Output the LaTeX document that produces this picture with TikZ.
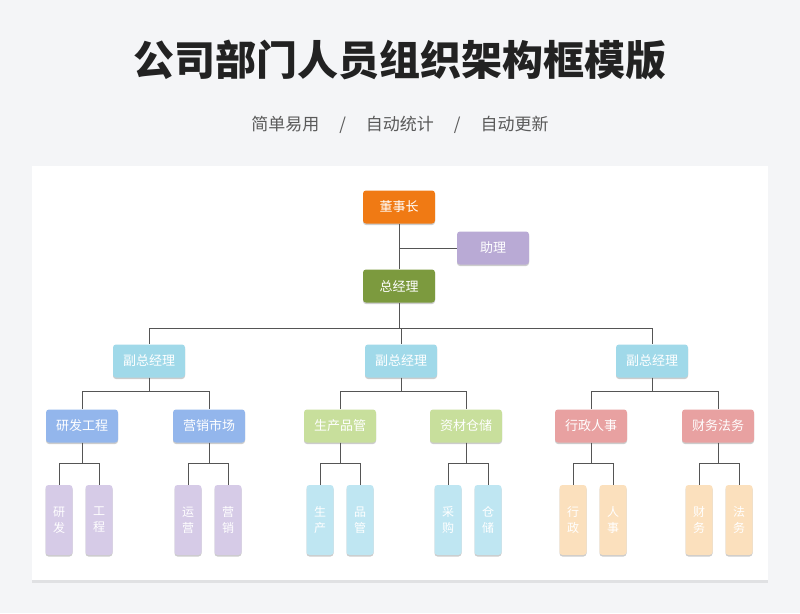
\documentclass[tikz,border=0pt]{standalone}
\usepackage{fontspec}
\setmainfont{Noto Sans CJK SC}
\usepackage{tikz}
\usetikzlibrary{shadows}
\definecolor{pagegray}{HTML}{F4F5F7}
\definecolor{titleink}{HTML}{222222}
\definecolor{subink}{HTML}{5A5A5A}
\definecolor{linegray}{HTML}{555555}
\definecolor{chairorange}{HTML}{F07A14}
\definecolor{assistpurple}{HTML}{B9AAD5}
\definecolor{gmgreen}{HTML}{7C9A3E}
\definecolor{vpcyan}{HTML}{A0D9E9}
\definecolor{deptblue}{HTML}{93B6EC}
\definecolor{deptlime}{HTML}{C8DF9C}
\definecolor{deptpink}{HTML}{E8A1A1}
\definecolor{leaflav}{HTML}{D6CBE7}
\definecolor{leafice}{HTML}{BFE6F2}
\definecolor{leafpeach}{HTML}{FBE0BD}

\begin{document}
\begin{tikzpicture}[x=1pt, y=-1pt,
    orgbox/.style={rounded corners=3pt, minimum width=72, minimum height=33, inner sep=0,
      text=white, font=\fontsize{13}{13}\selectfont,
      drop shadow={shadow xshift=0pt, shadow yshift=-1.5pt, opacity=0.2, fill=black}},
    leafbox/.style={orgbox, minimum width=27, minimum height=70, align=center,
      font=\fontsize{12}{16}\selectfont},
    link/.style={draw=linegray, line width=1pt}]
    \useasboundingbox (0,0) rectangle (800,613);
    \fill[pagegray] (0,0) rectangle (800,613); % the page
    \fill[white, drop shadow={shadow xshift=0pt, shadow yshift=-2.5pt, opacity=0.08, fill=black}]
      (32,166) rectangle (768,580); % the card
    \node[text=titleink, font=\fontsize{41}{41}\selectfont\bfseries] (title) at (400,60) {公司部门人员组织架构框模版};
    \node[text=subink, font=\fontsize{17}{17}\selectfont] (subtitle) at (400,125)
      {简单易用\hspace{20pt}/\hspace{20pt}自动统计\hspace{20pt}/\hspace{20pt}自动更新};
    % top of the tree
    \node[orgbox, fill=chairorange] (chair) at (399,207) {董事长};
    \node[orgbox, fill=assistpurple] (assist) at (493,248) {助理};
    \node[orgbox, fill=gmgreen] (gm) at (399,286) {总经理};
    \draw[link] (chair) -- (gm);
    \draw[link] (assist.west) -- (assist.west -| chair);
    \coordinate (vpbus) at (399,328);
    \draw[link] (gm) -- (vpbus);
    \foreach \x/\n in {149/vpa, 401/vpb, 652/vpc}
    \node[orgbox, fill=vpcyan] (\n) at (\x,361) {副总经理};
    \foreach \n in {vpa, vpb, vpc}
    \draw[link] (vpbus) -| (\n.north);
    % departments
    \foreach \x/\n/\t/\c/\p in {82/rd/研发工程/deptblue/vpa, 209/mk/营销市场/deptblue/vpa,
      340/pq/生产品管/deptlime/vpb, 466/ms/资材仓储/deptlime/vpb,
      591/hr/行政人事/deptpink/vpc, 718/fl/财务法务/deptpink/vpc}
    {
      \node[orgbox, fill=\c] (\n) at (\x,426) {\t};
      \draw[link] (\p.south) -- ++(0,14) -| (\n.north);
    }
    % teams
    \foreach \x/\n/\t/\c/\p in {59/ta/{研\\发}/leaflav/rd, 99/tb/{工\\程}/leaflav/rd,
      188/tc/{运\\营}/leaflav/mk, 228/td/{营\\销}/leaflav/mk,
      320/te/{生\\产}/leafice/pq, 360/tf/{品\\管}/leafice/pq,
      448/tg/{采\\购}/leafice/ms, 488/th/{仓\\储}/leafice/ms,
      573/ti/{行\\政}/leafpeach/hr, 613/tj/{人\\事}/leafpeach/hr,
      699/tk/{财\\务}/leafpeach/fl, 739/tl/{法\\务}/leafpeach/fl}
    {
      \node[leafbox, fill=\c] (\n) at (\x,520) {\t};
      \draw[link] (\p.south) -- ++(0,21) -| (\n.north);
    }
  \end{tikzpicture}
\end{document}
